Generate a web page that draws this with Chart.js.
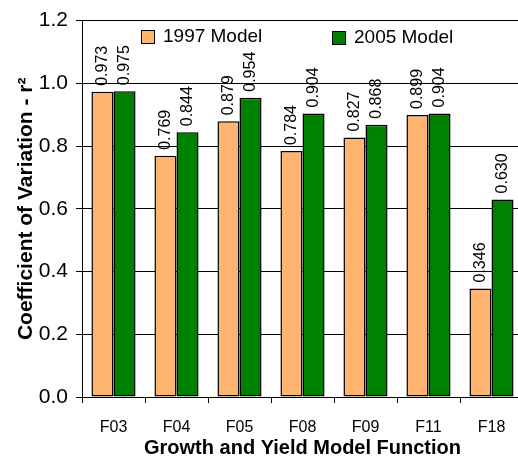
<!DOCTYPE html>
<html>
<head>
<meta charset="utf-8">
<script src="https://cdn.jsdelivr.net/npm/chart.js@4.4.0/dist/chart.umd.min.js"></script>
<style>
html,body{margin:0;padding:0;background:#fff;overflow:hidden;width:518px;height:458px;}
canvas{display:block;}
</style>
</head>
<body>
<canvas id="c" width="524" height="458"></canvas>
<script>
const categories = ["F03","F04","F05","F08","F09","F11","F18"];
const model1997 = [0.973,0.769,0.879,0.784,0.827,0.899,0.346];
const model2005 = [0.975,0.844,0.954,0.904,0.868,0.904,0.630];
const seriesNames = ["1997 Model","2005 Model"];
const yMin = 0, yMax = 1.2, yStep = 0.2;

const FONT = "'Liberation Sans', Arial, sans-serif";

const valueLabels = {
  id: 'valueLabels',
  afterDatasetsDraw(chart) {
    const ctx = chart.ctx;
    ctx.save();
    ctx.fillStyle = '#000';
    ctx.font = "16px " + FONT;
    ctx.textAlign = 'left';
    ctx.textBaseline = 'middle';
    chart.data.datasets.forEach((ds, di) => {
      const meta = chart.getDatasetMeta(di);
      meta.data.forEach((bar, i) => {
        ctx.save();
        ctx.translate(bar.x, bar.y - 6);
        ctx.rotate(-Math.PI / 2);
        ctx.fillText(ds.data[i].toFixed(3), 0, 0);
        ctx.restore();
      });
    });
    ctx.restore();
  }
};

const innerLegend = {
  id: 'innerLegend',
  afterDraw(chart) {
    const ctx = chart.ctx;
    const pos = [[141, 30], [332, 31]];
    ctx.save();
    ctx.font = "19px " + FONT;
    ctx.textBaseline = 'middle';
    ctx.textAlign = 'left';
    chart.data.datasets.forEach((ds, i) => {
      const [x, y] = pos[i];
      ctx.fillStyle = ds.backgroundColor;
      ctx.fillRect(x, y, 14, 14);
      ctx.strokeStyle = '#000';
      ctx.lineWidth = 1;
      ctx.strokeRect(x + 0.5, y + 0.5, 13, 13);
      ctx.fillStyle = '#000';
      ctx.fillText(ds.label, x + 22, y + 7);
    });
    ctx.restore();
  }
};

new Chart(document.getElementById('c'), {
  type: 'bar',
  data: {
    labels: categories,
    datasets: [
      { label: seriesNames[0], data: model1997, backgroundColor: '#FFB570', borderColor: '#000', borderWidth: 1.5, borderSkipped: false },
      { label: seriesNames[1], data: model2005, backgroundColor: '#008000', borderColor: '#000', borderWidth: 1.5, borderSkipped: false }
    ]
  },
  options: {
    responsive: false,
    animation: false,
    layout: { padding: { top: 20, right: 1, left: 0, bottom: 0 } },
    datasets: { bar: { categoryPercentage: 0.70, barPercentage: 1.0 } },
    plugins: { legend: { display: false }, tooltip: { enabled: false } },
    scales: {
      x: {
        grid: { display: true, drawOnChartArea: false, drawTicks: true, tickLength: 6, color: '#000', offset: true },
        border: { display: true, color: '#000', width: 1 },
        ticks: { color: '#000', font: { family: FONT, size: 16 }, padding: 15, maxRotation: 0 },
        title: { display: true, text: 'Growth and Yield Model Function', color: '#000', font: { family: FONT, size: 20, weight: 'bold', lineHeight: 1.0 }, padding: { top: 0, bottom: 0 } },
        afterFit(s) { s.height = 61; }
      },
      y: {
        min: yMin, max: yMax,
        grid: { color: '#000', tickLength: 6, drawTicks: true },
        border: { display: true, color: '#000', width: 1 },
        ticks: { stepSize: yStep, color: '#000', font: { family: FONT, size: 21 }, padding: 8, callback: v => Number(v).toFixed(1) },
        title: { display: true, text: 'Coefficient of Variation - r²', color: '#000', font: { family: FONT, size: 21, weight: 'bold' }, padding: { top: 14, bottom: 0 } },
        afterFit(s) { s.width = 82; }
      }
    }
  },
  plugins: [valueLabels, innerLegend]
});
</script>
</body>
</html>
